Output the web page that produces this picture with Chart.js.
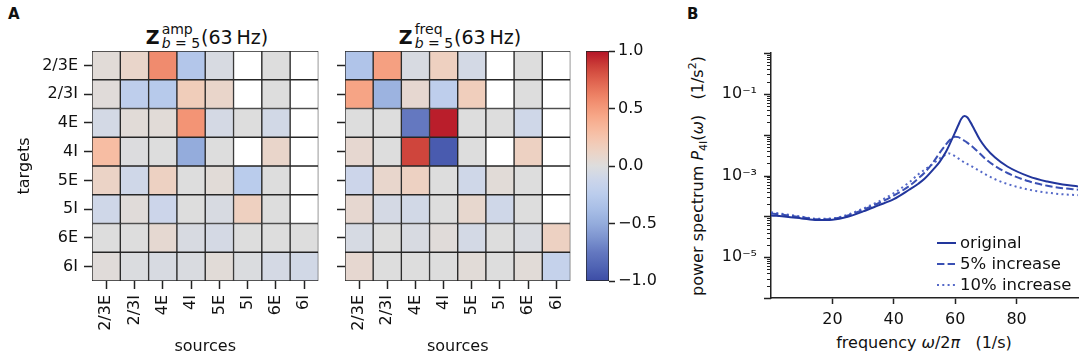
<!DOCTYPE html>
<html lang="en">
  <head>
    <meta charset="UTF-8" />
    <title>Z amp / freq</title>
    <script src="https://cdn.jsdelivr.net/npm/chart.js"></script>
    <style>
      body {
        margin: 0;
        width: 1084px;
        height: 362px;
        position: relative;
        overflow: hidden;
        background: #fff;
        font-family: "DejaVu Sans";
        color: #111;
      }
      canvas {
        position: absolute;
        top: 0;
      }
      .panel {
        position: absolute;
        top: 5px;
        font-size: 15px;
        font-weight: bold;
      }
      .title {
        position: absolute;
        font-size: 19px;
        white-space: nowrap;
        transform: translateX(-50%);
        line-height: 1;
      }
      .ss {
        display: inline-flex;
        flex-direction: column;
        font-size: 14px;
        line-height: 14px;
        vertical-align: 10px;
        margin: 0 1px 0 2px;
      }
      .axt {
        position: absolute;
        font-size: 16px;
        white-space: nowrap;
        line-height: 1;
      }
      sub {
        font-size: 11px;
      }
      sup {
        font-size: 11px;
      }
    </style>
  </head>
  <body>
    <div class="panel" style="left: 8px">A</div>
    <div class="panel" style="left: 687px">B</div>

    <div class="title" style="left: 207px; top: 22px">
      <b>Z</b><span class="ss"><span>amp</span><span><i>b</i> = 5</span></span>(63&#8201;Hz)
    </div>
    <div class="title" style="left: 460px; top: 22px">
      <b>Z</b><span class="ss"><span>freq</span><span><i>b</i> = 5</span></span>(63&#8201;Hz)
    </div>

    <div class="axt" style="left: 698px; top: 176px; transform: translate(-50%, -50%) rotate(-90deg)">
      power spectrum <i>P</i><sub>4I</sub>(<i>ω</i>)&nbsp;&nbsp;&nbsp;(1/s<sup>2</sup>)
    </div>
    <div class="axt" style="left: 924px; top: 343px; transform: translate(-50%, -50%)">
      frequency <i>ω</i>/2<i>π</i>&nbsp;&nbsp;&nbsp;(1/s)
    </div>

    <canvas id="ampMap" width="330" height="362" style="left: 0px"></canvas>
    <canvas id="freqMap" width="252" height="362" style="left: 330px"></canvas>
    <canvas id="cbar" width="104" height="362" style="left: 580px"></canvas>
    <canvas id="spectrum" width="404" height="362" style="left: 680px"></canvas>

    <script>
      const sources = ["2/3E", "2/3I", "4E", "4I", "5E", "5I", "6E", "6I"];
      const targets = ["2/3E", "2/3I", "4E", "4I", "5E", "5I", "6E", "6I"];

      // rows = targets, columns = sources, null = masked (white)
      const ampValues = [
        [0.03, 0.1, 0.57, -0.3, -0.04, null, 0, null],
        [0.02, -0.22, -0.27, 0.18, 0.1, null, 0, null],
        [-0.07, 0.03, 0.03, 0.53, -0.06, 0, -0.08, null],
        [0.3, -0.01, 0, -0.5, 0, null, 0.1, null],
        [0.12, -0.1, 0.14, 0, 0.03, -0.25, 0, null],
        [-0.1, 0.02, -0.12, 0, -0.04, 0.15, 0, null],
        [0, 0, 0.06, -0.04, -0.06, 0, 0, 0],
        [0.02, -0.02, -0.04, -0.03, 0.03, -0.02, -0.06, -0.08],
      ];
      const freqValues = [
        [-0.32, 0.47, -0.04, 0.15, -0.07, null, 0, null],
        [0.45, -0.45, 0.07, -0.22, 0.17, null, 0, null],
        [0, 0, -0.75, 0.97, 0, 0, -0.1, null],
        [0.07, 0, 0.85, -0.92, 0, null, 0.14, null],
        [-0.12, 0.09, 0.14, 0, -0.1, 0.03, 0, null],
        [0.07, -0.06, -0.08, 0, 0.08, -0.1, 0, null],
        [-0.05, 0, -0.04, 0.02, -0.07, 0, -0.03, 0.14],
        [0.07, 0, 0, 0, 0.03, 0, 0.03, -0.17],
      ];
      const colorbarTicks = [-1, -0.5, 0, 0.5, 1];

      const freqHz = [0, 5, 10, 15, 20, 25, 30, 35, 40, 45, 48, 50, 53, 55, 57, 58, 59, 60, 61, 62, 63, 64, 65, 66, 68, 70, 73, 77, 84, 90, 95, 100];
      const powerOriginal = [1.05e-4, 9.8e-5, 8.9e-5, 8.1e-5, 8.3e-5, 9.8e-5, 1.32e-4, 1.86e-4, 2.63e-4, 4.47e-4, 6.3e-4, 8.3e-4, 1.45e-3, 2.19e-3, 3.8e-3, 5.4e-3, 7.9e-3, 1.15e-2, 1.7e-2, 2.45e-2, 2.88e-2, 2.63e-2, 2.0e-2, 1.45e-2, 7.6e-3, 4.7e-3, 2.75e-3, 1.66e-3, 9.5e-4, 7.1e-4, 6.0e-4, 5.4e-4];
      const power5 = [1.17e-4, 1.07e-4, 9.5e-5, 8.5e-5, 8.7e-5, 1.05e-4, 1.45e-4, 2.09e-4, 3.24e-4, 5.5e-4, 8.5e-4, 1.17e-3, 2.19e-3, 3.63e-3, 5.75e-3, 7.1e-3, 8.3e-3, 8.9e-3, 8.7e-3, 7.9e-3, 7.1e-3, 6.3e-3, 5.5e-3, 4.8e-3, 3.47e-3, 2.5e-3, 1.7e-3, 1.15e-3, 7.2e-4, 5.6e-4, 4.9e-4, 4.5e-4];
      const power10 = [1.26e-4, 1.12e-4, 9.8e-5, 8.7e-5, 8.9e-5, 1.1e-4, 1.55e-4, 2.29e-4, 3.7e-4, 6.8e-4, 1.07e-3, 1.38e-3, 2.0e-3, 2.63e-3, 3.24e-3, 3.47e-3, 3.24e-3, 2.95e-3, 2.63e-3, 2.34e-3, 2.09e-3, 1.9e-3, 1.74e-3, 1.58e-3, 1.29e-3, 1.05e-3, 8.1e-4, 6.2e-4, 4.5e-4, 3.8e-4, 3.47e-4, 3.3e-4];
      const seriesLabels = ["original", "5% increase", "10% increase"];
      const freqTicks = [20, 40, 60, 80];
      const powerTicks = [1e-5, 1e-3, 1e-1];
      const powerTickLabels = ["10⁻⁵", "10⁻³", "10⁻¹"];

      // coolwarm, blue half muted to look like the printed figure
      const coolwarmTable = [
        [60, 76, 165], [70, 88, 173], [80, 100, 180], [90, 110, 186], [100, 120, 192],
        [112, 134, 200], [125, 148, 207], [137, 160, 214], [148, 172, 220], [158, 181, 225],
        [168, 190, 230], [177, 197, 233], [186, 204, 236], [195, 209, 236], [203, 213, 234],
        [212, 217, 228], [221, 221, 221], [229, 216, 209], [236, 211, 197], [241, 204, 185],
        [245, 196, 173], [247, 187, 160], [247, 177, 148], [247, 166, 135], [244, 154, 123],
        [241, 141, 111], [236, 127, 99], [229, 112, 88], [222, 96, 77], [213, 80, 66],
        [203, 62, 56], [192, 40, 47], [180, 20, 40],
      ];
      const coolwarm = function (v) {
        const t = Math.min(1, Math.max(0, (v + 1) / 2)) * (coolwarmTable.length - 1);
        const i = Math.min(Math.floor(t), coolwarmTable.length - 2);
        const f = t - i;
        const a = coolwarmTable[i];
        const b = coolwarmTable[i + 1];
        const c = a.map((x, k) => Math.round(x + (b[k] - x) * f));
        return "rgb(" + c.join(",") + ")";
      };

      Chart.defaults.font.family = "DejaVu Sans";
      Chart.defaults.font.size = 16;
      Chart.defaults.color = "#111";
      Chart.defaults.animation = false;
      Chart.defaults.plugins.legend.display = false;
      Chart.defaults.plugins.tooltip.enabled = false;

      const heatmap = function (id, values, showYLabels, yWidth, rightPad) {
        return new Chart(document.getElementById(id), {
          type: "bar",
          data: {
            labels: sources,
            datasets: targets.map((t, r) => ({
              label: t,
              data: sources.map(() => [r, r + 1]),
              backgroundColor: values[r].map((v) => (v === null ? "#ffffff" : coolwarm(v))),
              borderColor: "#262626",
              borderWidth: 1,
              borderSkipped: false,
              grouped: false,
              barPercentage: 1,
              categoryPercentage: 1,
            })),
          },
          options: {
            responsive: false,
            layout: { padding: { left: 0, right: rightPad, top: 51, bottom: 0 } },
            scales: {
              x: {
                grid: { drawOnChartArea: false, offset: false, tickLength: 8, tickColor: "#222", tickWidth: 1.5 },
                border: { display: false },
                ticks: { minRotation: 90, maxRotation: 90, autoSkip: false, padding: 6 },
                title: { display: true, text: "sources", padding: { top: 0, bottom: 6 } },
                afterFit: (s) => {
                  s.height = 81;
                },
              },
              y: {
                type: "linear",
                min: 0,
                max: 8,
                reverse: true,
                afterBuildTicks: (s) => {
                  s.ticks = targets.map((_, i) => ({ value: i + 0.5 }));
                },
                grid: { drawOnChartArea: false, tickLength: 8, tickColor: "#222", tickWidth: 1.5 },
                border: { display: false },
                ticks: {
                  autoSkip: false,
                  padding: 6,
                  callback: (v, i) => (showYLabels ? targets[i] : ""),
                },
                title: { display: showYLabels, text: "targets", padding: { top: 15, bottom: 0 } },
                afterFit: (s) => {
                  s.width = yWidth;
                },
              },
            },
          },
        });
      };

      heatmap("ampMap", ampValues, true, 92, 8);
      heatmap("freqMap", freqValues, false, 15, 7);

      // colour bar: one floating bar over the whole range, filled with the colormap
      new Chart(document.getElementById("cbar"), {
        type: "bar",
        data: {
          labels: [""],
          datasets: [
            {
              data: [[colorbarTicks[0], colorbarTicks[colorbarTicks.length - 1]]],
              backgroundColor: (c) => {
                const { chart } = c;
                if (!chart.chartArea) return "#ddd";
                const y = chart.scales.y;
                const g = chart.ctx.createLinearGradient(0, y.getPixelForValue(-1), 0, y.getPixelForValue(1));
                coolwarmTable.forEach((col, i) => g.addColorStop(i / (coolwarmTable.length - 1), "rgb(" + col.join(",") + ")"));
                return g;
              },
              borderColor: "#222",
              borderWidth: 1,
              borderSkipped: false,
              barPercentage: 1,
              categoryPercentage: 1,
            },
          ],
        },
        options: {
          responsive: false,
          layout: { padding: { left: 6, right: 0, top: 51, bottom: 81 } },
          scales: {
            x: { display: false },
            y: {
              position: "right",
              min: -1,
              max: 1,
              afterBuildTicks: (s) => {
                s.ticks = colorbarTicks.map((v) => ({ value: v }));
              },
              grid: { drawOnChartArea: false, tickLength: 6, tickColor: "#222", tickWidth: 1.5 },
              border: { display: false },
              ticks: { padding: 3, callback: (v) => v.toFixed(1).replace("-", "−") },
              afterFit: (s) => {
                s.width = 75;
              },
            },
          },
        },
      });

      // log-axis tick marks (major per decade, minor 2..9)
      const logTickMarks = {
        id: "logTickMarks",
        afterDraw(chart) {
          const { ctx, chartArea } = chart;
          const y = chart.scales.y;
          ctx.save();
          ctx.strokeStyle = "#222";
          for (let e = -6; e <= 0; e++) {
            for (let m = 1; m <= 9; m++) {
              const v = m * Math.pow(10, e);
              if (v > 1.0000001) break;
              const py = Math.round(y.getPixelForValue(v)) + 0.5;
              const len = m === 1 ? 7 : 4;
              ctx.lineWidth = m === 1 ? 1.5 : 1;
              ctx.beginPath();
              ctx.moveTo(chartArea.left - len, py);
              ctx.lineTo(chartArea.left, py);
              ctx.stroke();
            }
          }
          ctx.restore();
        },
      };

      const insideLegend = {
        id: "insideLegend",
        afterDraw(chart) {
          const { ctx, chartArea } = chart;
          ctx.save();
          chart.data.datasets.forEach((ds, i) => {
            const y = chartArea.bottom - 55 + i * 21;
            ctx.strokeStyle = ds.borderColor;
            ctx.lineWidth = ds.borderWidth;
            ctx.setLineDash(ds.borderDash || []);
            ctx.beginPath();
            ctx.moveTo(chartArea.right - 141, y);
            ctx.lineTo(chartArea.right - 122, y);
            ctx.stroke();
            ctx.setLineDash([]);
            ctx.fillStyle = "#111";
            ctx.font = '16.5px "DejaVu Sans"';
            ctx.textBaseline = "middle";
            ctx.fillText(ds.label, chartArea.right - 118, y + 1);
          });
          ctx.restore();
        },
      };

      const lineColors = ["#22369c", "#3a50b4", "#5569c8"];
      const lineDashes = [[], [7.4, 3.2], [2, 3.3]];
      const powerSeries = [powerOriginal, power5, power10];

      new Chart(document.getElementById("spectrum"), {
        type: "line",
        data: {
          datasets: powerSeries.map((vals, k) => ({
            label: seriesLabels[k],
            data: freqHz.map((f, i) => ({ x: f, y: vals[i] })),
            borderColor: lineColors[k],
            borderWidth: 2,
            borderDash: lineDashes[k],
            pointRadius: 0,
            cubicInterpolationMode: "monotone",
            fill: false,
          })),
        },
        options: {
          responsive: false,
          layout: { padding: { left: 0, right: 6, top: 53, bottom: 0 } },
          scales: {
            x: {
              type: "linear",
              min: 0,
              max: 100,
              afterBuildTicks: (s) => {
                s.ticks = freqTicks.map((v) => ({ value: v }));
              },
              grid: { drawOnChartArea: false, tickLength: 6, tickColor: "#222", tickWidth: 1.5 },
              border: { color: "#222", width: 1.5 },
              ticks: { padding: 6 },
              afterFit: (s) => {
                s.height = 64;
              },
            },
            y: {
              type: "logarithmic",
              min: 1e-6,
              max: 1,
              afterBuildTicks: (s) => {
                s.ticks = powerTicks.map((v) => ({ value: v }));
              },
              grid: { display: false, drawTicks: false },
              border: { color: "#222", width: 1.5 },
              ticks: {
                autoSkip: false,
                padding: 14,
                callback: (v, i) => powerTickLabels[i],
              },
              afterFit: (s) => {
                s.width = 91;
              },
            },
          },
        },
        plugins: [logTickMarks, insideLegend],
      });
    </script>
  </body>
</html>
